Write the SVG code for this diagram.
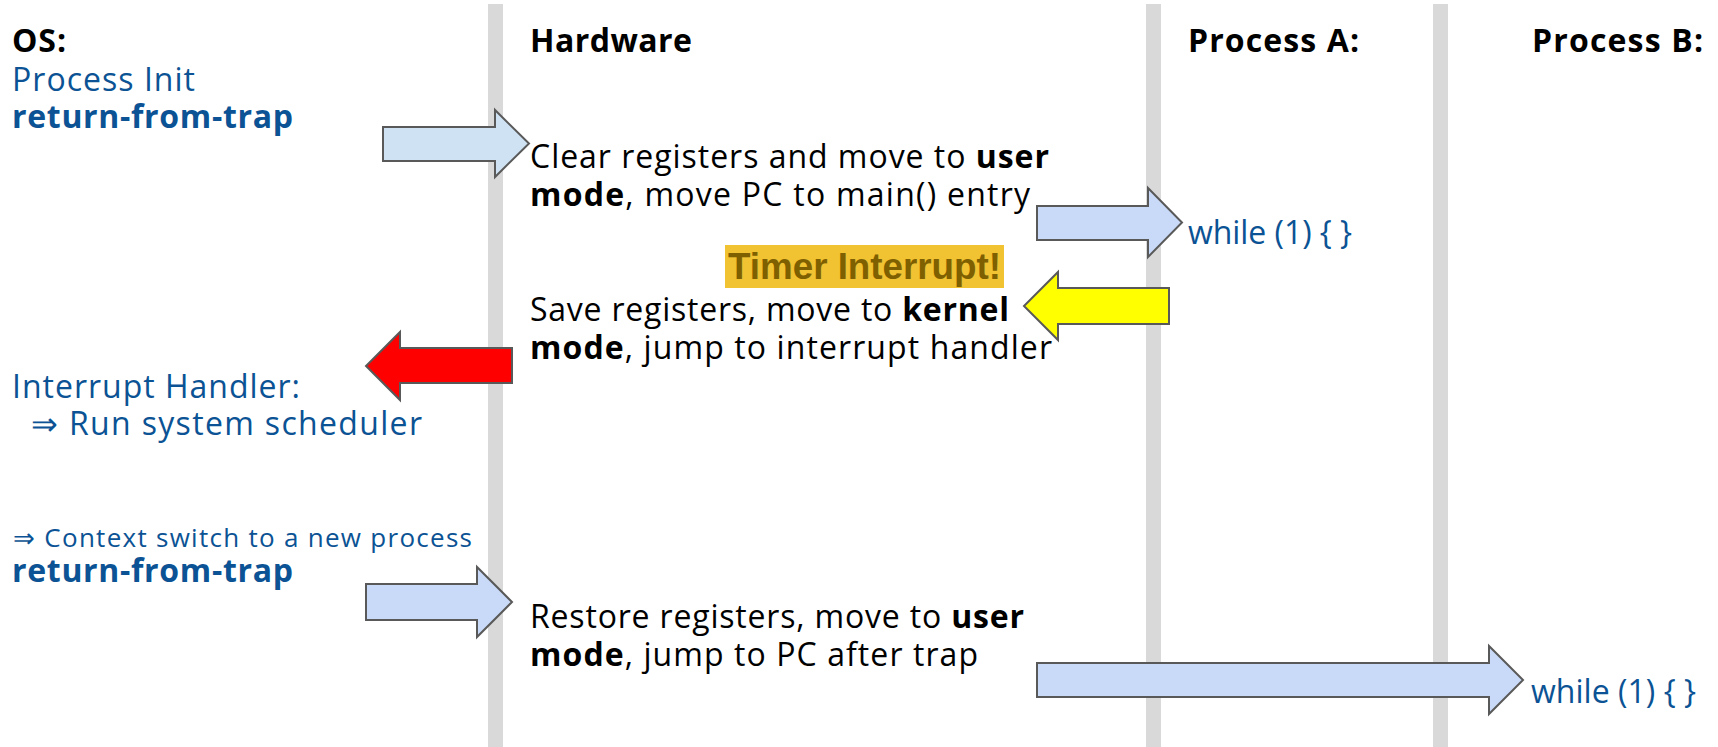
<svg xmlns="http://www.w3.org/2000/svg" width="1718" height="747" viewBox="0 0 1718 747">
<style>
.t{font-family:"Open Sans","Liberation Sans",sans-serif;font-size:32px;fill:#000}
.b{font-weight:bold}
.blue{fill:#0b5394}
.sm{font-size:26px}
.lane{fill:#d9d9d9}
.arr{stroke:#595959;stroke-width:2;stroke-linejoin:miter}
.a1{fill:#cfe2f3}
.a2{fill:#c9daf8}
.timer{font-family:"Liberation Sans",Arial,sans-serif;font-size:36px;font-weight:bold;fill:#7f6000}
</style>
<rect width="1718" height="747" fill="#ffffff"/>
<g id="lanes">
<rect class="lane" x="488" y="4" width="15" height="743"/>
<rect class="lane" x="1146" y="4" width="15" height="743"/>
<rect class="lane" x="1433" y="4" width="15" height="743"/>
</g>
<g id="headers">
<text class="t b" x="12" y="52" textLength="54">OS:</text>
<text class="t b" x="530" y="52" textLength="162">Hardware</text>
<text class="t b" x="1188" y="52" textLength="171">Process A:</text>
<text class="t b" x="1532" y="52" textLength="171">Process B:</text>
</g>
<g id="os-init">
<text class="t blue" x="12" y="91" textLength="183">Process Init</text>
<text class="t b blue" x="12" y="128" textLength="281">return-from-trap</text>
</g>
<g id="hw-clear">
<text class="t" x="530" y="168" textLength="519">Clear registers and move to <tspan class="b">user</tspan></text>
<text class="t" x="530" y="206" textLength="500"><tspan class="b">mode</tspan>, move PC to main() entry</text>
</g>
<g id="procA-while">
<text class="t blue" x="1188" y="244" textLength="164">while (1) { }</text>
</g>
<g id="timer">
<rect x="725" y="245" width="279" height="43" fill="#f1c232"/>
<text class="timer" x="728" y="279" textLength="273" lengthAdjust="spacingAndGlyphs">Timer Interrupt!</text>
</g>
<g id="hw-save">
<text class="t" x="530" y="321" textLength="479">Save registers, move to <tspan class="b">kernel</tspan></text>
<text class="t" x="530" y="359" textLength="522"><tspan class="b">mode</tspan>, jump to interrupt handler</text>
</g>
<g id="os-handler">
<text class="t blue" x="12" y="398" textLength="288">Interrupt Handler:</text>
<text class="t blue" x="31" y="435" textLength="391">⇒ Run system scheduler</text>
</g>
<g id="os-switch">
<text class="t sm blue" x="13" y="547" textLength="459">⇒ Context switch to a new process</text>
<text class="t b blue" x="12" y="582" textLength="281">return-from-trap</text>
</g>
<g id="hw-restore">
<text class="t" x="530" y="628" textLength="494">Restore registers, move to <tspan class="b">user</tspan></text>
<text class="t" x="530" y="666" textLength="448"><tspan class="b">mode</tspan>, jump to PC after trap</text>
</g>
<g id="procB-while">
<text class="t blue" x="1531" y="703" textLength="165">while (1) { }</text>
</g>
<g id="connectors">
<polygon class="arr a1" points="383,127 495,127 495,110 529,143.5 495,177 495,161 383,161"/>
<polygon class="arr a2" points="1037,206 1148,206 1148,188 1182,222.5 1148,257 1148,240 1037,240"/>
<polygon class="arr" fill="#ffff00" points="1169,288 1058,288 1058,272 1024,306 1058,340 1058,324 1169,324"/>
<polygon class="arr" fill="#ff0000" points="512,348 400,348 400,332 366,366 400,400 400,383 512,383"/>
<polygon class="arr a2" points="366,584 477,584 477,567 512,602 477,637 477,620 366,620"/>
<polygon class="arr a2" points="1037,663 1489,663 1489,646 1523,680 1489,714 1489,697 1037,697"/>
</g>
</svg>
